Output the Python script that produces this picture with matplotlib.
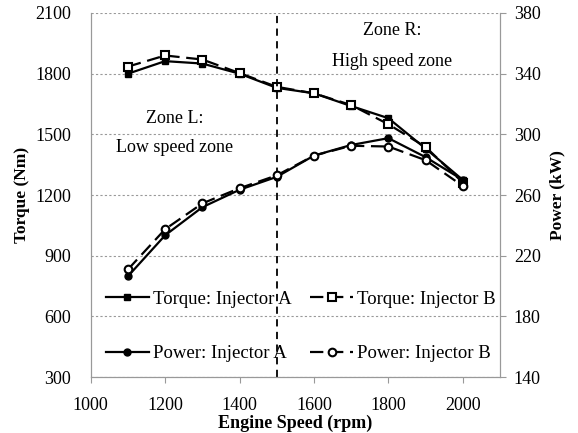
import matplotlib.pyplot as plt

plt.rcParams['font.family'] = ['Liberation Serif', 'DejaVu Serif']

speed = [1100, 1200, 1300, 1400, 1500, 1600, 1700, 1800, 1900, 2000]
torque_a = [1800, 1862, 1850, 1800, 1730, 1703, 1640, 1580, 1430, 1275]
torque_b = [1835, 1890, 1870, 1803, 1735, 1703, 1645, 1550, 1438, 1262]
power_a = [206.5, 233.5, 252.0, 263.5, 272.0, 286.0, 293.0, 297.5, 285.0, 270.0]
power_b = [211.0, 237.5, 254.5, 264.5, 273.0, 286.0, 292.5, 292.0, 283.0, 266.0]

fig = plt.figure(figsize=(5.78, 4.33), dpi=100)
ax = fig.add_axes([0.157, 0.129, 0.708, 0.841])
ax2 = ax.twinx()

lw = 1.6
h1, = ax.plot(speed, torque_a, '-', color='black', lw=lw, marker='s', ms=5,
              mfc='black', label='Torque: Injector A')
h2, = ax.plot(speed, torque_b, '--', color='black', lw=lw, marker='s', ms=5.5,
              mfc='white', mew=1.5, dashes=(6, 3), label='Torque: Injector B')
h3, = ax2.plot(speed, power_a, '-', color='black', lw=lw, marker='o', ms=5,
               mfc='black', label='Power: Injector A')
h4, = ax2.plot(speed, power_b, '--', color='black', lw=lw, marker='o', ms=5.5,
               mfc='white', mew=1.5, dashes=(6, 3), label='Power: Injector B')

ax.axvline(1500, color='black', lw=1.3, ls=(0, (4, 3)))

ax.set_xlim(1000, 2100)
ax.set_ylim(300, 2100)
ax.set_yticks(range(300, 2101, 300))
ax.set_xticks(range(1000, 2001, 200))
ax2.set_ylim(140, 380)
ax2.set_yticks(range(140, 381, 40))

ax.grid(axis='y', color='#999999', ls=(0, (2, 2)), lw=0.8)
ax.set_axisbelow(True)
for a in (ax, ax2):
    a.spines['top'].set_visible(False)
    for s in ('left', 'right', 'bottom'):
        a.spines[s].set_color('#999999')
    a.tick_params(labelsize=13, color='#999999', length=4)
ax.tick_params(axis='y', length=0, pad=14)
ax2.tick_params(axis='y', length=4, pad=6)
ax.tick_params(axis='x', direction='out', pad=10)

ax.set_xlabel('Engine Speed (rpm)', fontsize=13, fontweight='bold', labelpad=1)
ax.set_ylabel('Torque (Nm)', fontsize=12.5, fontweight='bold', labelpad=4)
ax2.set_ylabel('Power (kW)', fontsize=12.5, fontweight='bold', labelpad=6)

ax.text(1225, 1580, 'Zone L:', ha='center', va='center', fontsize=13)
ax.text(1225, 1435, 'Low speed zone', ha='center', va='center', fontsize=13)
ax.text(1810, 2015, 'Zone R:', ha='center', va='center', fontsize=13)
ax.text(1810, 1860, 'High speed zone', ha='center', va='center', fontsize=13)

ax.legend([h1, h3, h2, h4], [h.get_label() for h in (h1, h3, h2, h4)],
          ncol=2, loc='lower left', bbox_to_anchor=(0.0, 0.0),
          frameon=False, fontsize=13.5, handlelength=2.3, labelspacing=2.0,
          columnspacing=1.0, handletextpad=0.2, borderaxespad=0.4)

fig.savefig('out.png', dpi=100)
